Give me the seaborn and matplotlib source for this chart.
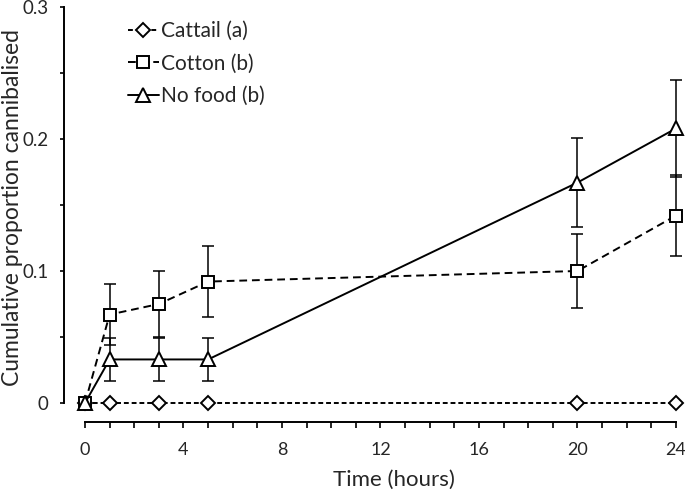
import matplotlib
matplotlib.use("Agg")
import matplotlib.pyplot as plt
import seaborn as sns
import pandas as pd
import numpy as np

time = [0, 1, 3, 5, 20, 24]
cattail = [0, 0, 0, 0, 0, 0]
cotton = [0, 0.067, 0.075, 0.092, 0.100, 0.142]
cotton_err = [0, 0.023, 0.025, 0.027, 0.028, 0.031]
nofood = [0, 0.033, 0.033, 0.033, 0.167, 0.208]
nofood_err = [0, 0.016, 0.016, 0.016, 0.034, 0.037]
labels = ["Cattail (a)", "Cotton (b)", "No food (b)"]

sns.set_theme(style="white")
plt.rcParams['font.family'] = ['Lato', 'DejaVu Sans']

df = pd.DataFrame({
    "time": time * 3,
    "value": cattail + cotton + nofood,
    "series": [labels[0]] * 6 + [labels[1]] * 6 + [labels[2]] * 6,
})

W, H = 685, 495
fig = plt.figure(figsize=(6.85, 4.95), dpi=100)
ax = fig.add_axes([64 / W, 1 - 403 / H, (683 - 64) / W, (403 - 7) / H])

# error bars first (behind markers)
for vals, errs in [(cotton, cotton_err), (nofood, nofood_err)]:
    t = np.array(time[1:])
    v = np.array(vals[1:])
    e = np.array(errs[1:])
    ax.errorbar(t, v, yerr=e, fmt="none", ecolor="black", elinewidth=1.1,
                capsize=4, capthick=1.1, zorder=2, clip_on=False)

styles = {
    labels[0]: dict(marker="D", ls=(0, (2.5, 1.5)), ms=7.5),
    labels[1]: dict(marker="s", ls=(0, (4, 2.5)), ms=8.5),
    labels[2]: dict(marker="^", ls="-", ms=10),
}
for lab in labels:
    sub = df[df.series == lab]
    st = styles[lab]
    sns.lineplot(data=sub, x="time", y="value", ax=ax, color="black",
                 linewidth=1.4, linestyle=st["ls"], marker=st["marker"],
                 markersize=st["ms"], markerfacecolor="white",
                 markeredgecolor="black", markeredgewidth=1.4,
                 label=lab, zorder=3, clip_on=False, errorbar=None)

x0 = 85  # pixel of t=0
pph = (676 - 85) / 24
ax.set_xlim(-(x0 - 64) / pph, (683 - x0) / pph)
ax.set_ylim(0, 0.3)

for s in ["top", "right"]:
    ax.spines[s].set_visible(False)
ax.spines["bottom"].set_position(("outward", 19 * 0.72))
ax.spines["bottom"].set_bounds(0, 24)
for s in ["bottom", "left"]:
    ax.spines[s].set_color("black")
    ax.spines[s].set_linewidth(1.4)

ax.set_xticks([0, 4, 8, 12, 16, 20, 24])
ax.set_xticks(range(0, 25), minor=True)
ax.set_yticks([0, 0.1, 0.2, 0.3])
ax.set_yticks([0.05, 0.15, 0.25], minor=True)
ax.set_yticklabels(["0", "0.1", "0.2", "0.3"])
ax.tick_params(axis="x", which="both", direction="out", length=4.5, width=1.2,
               color="black", bottom=True, labelsize=13, pad=10)
ax.tick_params(axis="y", which="both", direction="out", length=3, width=1.2,
               color="black", left=True, labelsize=13.5, pad=8)
ax.grid(False)

ax.set_xlabel("")
ax.set_ylabel("")
fig.text(394 / W, 1 - 480 / H, "Time (hours)", ha="center", va="center",
         fontsize=16)
fig.text(13 / W, 1 - 207 / H, "Cumulative proportion cannibalised",
         ha="center", va="center", rotation=90, fontsize=16.5)

leg = ax.legend(loc="upper left", bbox_to_anchor=((120 - 64) / (683 - 64), 0.985),
                frameon=False, fontsize=15, handlelength=1.45,
                handletextpad=0.1, labelspacing=0.6, borderaxespad=0)

fig.savefig("out.png", dpi=100)
